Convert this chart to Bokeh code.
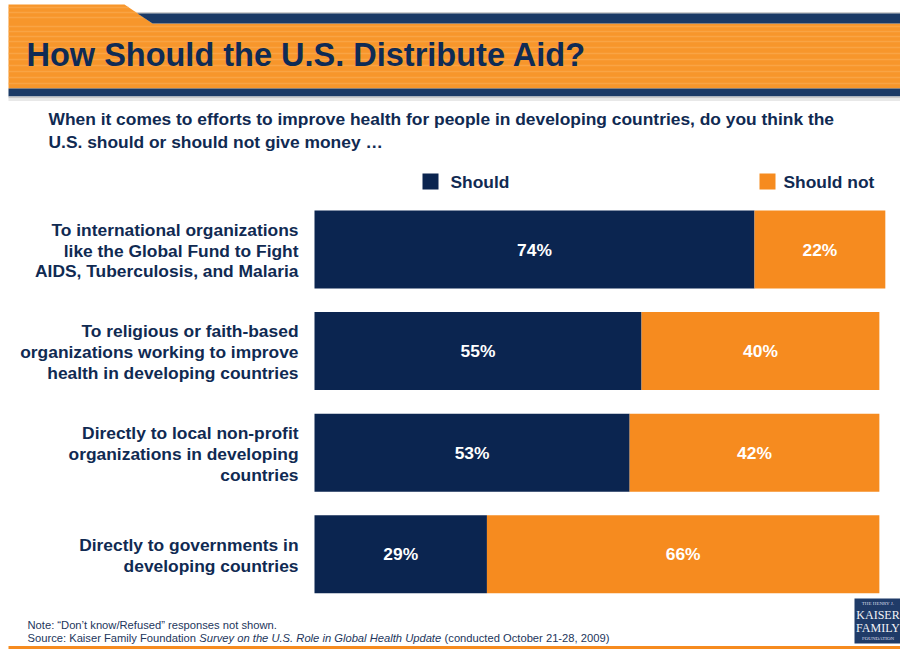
from bokeh.plotting import figure
from bokeh.models import Range1d
from bokeh.embed import file_html
from bokeh.resources import INLINE
from bokeh.core.properties import value

# ---------------- data ----------------
title = "How Should the U.S. Distribute Aid?"
subtitle = ["When it comes to efforts to improve health for people in developing countries, do you think the",
            "U.S. should or should not give money \u2026"]
categories = [
    "To international organizations\nlike the Global Fund to Fight\nAIDS, Tuberculosis, and Malaria",
    "To religious or faith-based\norganizations working to improve\nhealth in developing countries",
    "Directly to local non-profit\norganizations in developing\ncountries",
    "Directly to governments in\ndeveloping countries",
]
series_names = ["Should", "Should not"]
should = [74, 55, 53, 29]
should_not = [22, 40, 42, 66]
note = "Note: \u201cDon\u2019t know/Refused\u201d responses not shown."
source_parts = ["Source: Kaiser Family Foundation ",
                "Survey on the U.S. Role in Global Health Update ",
                "(conducted October 21-28, 2009)"]

# ---------------- style ----------------
NAVY_BAR = "#0B2550"
ORANGE_BAR = "#F68B1F"
HEAD_ORANGE = "#F7962B"
HEAD_NAVY = "#1B3A66"
TEXT_NAVY = "#102A52"
FOOT_TEXT = "#23365C"
FONT = value("Liberation Sans")
SERIF = value("Liberation Serif")

W, H = 900, 649
PAGE_X0, PAGE_Y0 = 0, 0
ZERO_X = 314.0
PX_PER_PCT = 5.946
ROW0_Y = 249.0
ROW_STEP = 101.6
BAR_H = 78.0 / ROW_STEP

x_start = (PAGE_X0 - ZERO_X) / PX_PER_PCT
x_end = x_start + W / PX_PER_PCT
y_top = (PAGE_Y0 - ROW0_Y) / ROW_STEP
y_bot = y_top + H / ROW_STEP


def fx(px):
    return (px - ZERO_X) / PX_PER_PCT


def fy(py):
    return (py - ROW0_Y) / ROW_STEP


p = figure(width=W, height=H, x_range=Range1d(x_start, x_end), y_range=Range1d(y_bot, y_top),
           output_backend="svg", toolbar_location=None, min_border=0,
           x_axis_location=None, y_axis_location=None, outline_line_color=None,
           background_fill_color="white", border_fill_color="white")
p.grid.visible = False

# ---------------- header ----------------
p.quad(left=[fx(136)], right=[fx(910)], top=[fy(11.5)], bottom=[fy(13.5)], fill_color="#CFCFCF", line_color=None)
p.patch(x=[fx(8), fx(124), fx(152), fx(910), fx(910), fx(8)],
        y=[fy(4), fy(4), fy(23), fy(23), fy(88), fy(88)],
        fill_color=HEAD_ORANGE, line_color=None)
stripe_y = [7, 12, 17, 26, 31, 36, 41, 47, 53, 59, 65, 71, 77, 83]
for sy in stripe_y:
    if sy < 23:
        xr = 124 + (sy - 4) * (28.0 / 19.0)
    else:
        xr = 910
    p.line(x=[fx(8), fx(xr)], y=[fy(sy), fy(sy)], line_color="#FBB15A", line_width=1.3, line_alpha=0.55)
p.patch(x=[fx(137), fx(910), fx(910), fx(152)],
        y=[fy(13), fy(13), fy(23), fy(23)], fill_color=HEAD_NAVY, line_color=None)
p.quad(left=[fx(8)], right=[fx(910)], top=[fy(88)], bottom=[fy(96)], fill_color=HEAD_NAVY, line_color=None)
p.quad(left=[fx(8)], right=[fx(910)], top=[fy(96)], bottom=[fy(98)], fill_color="#C9C9C9", line_color=None)
p.quad(left=[fx(8)], right=[fx(910)], top=[fy(98)], bottom=[fy(100.5)], fill_color="#E8E8E8", line_color=None)

p.text(x=[fx(26)], y=[fy(54)], text=[title], text_font=FONT, text_font_style="bold",
       text_font_size="32.5px", text_color="#0F2B55", text_align="left", text_baseline="middle")

p.text(x=[fx(48), fx(48)], y=[fy(118.5), fy(141)], text=subtitle, text_font=FONT, text_font_style="bold",
       text_font_size="17.4px", text_color=TEXT_NAVY, text_align="left", text_baseline="middle")

# ---------------- legend ----------------
p.quad(left=[fx(422)], right=[fx(438)], top=[fy(173)], bottom=[fy(189)], fill_color=NAVY_BAR, line_color=None)
p.quad(left=[fx(759)], right=[fx(775)], top=[fy(173)], bottom=[fy(189)], fill_color=ORANGE_BAR, line_color=None)
p.text(x=[fx(450), fx(783)], y=[fy(181), fy(181)], text=series_names, text_font=FONT, text_font_style="bold",
       text_font_size="17.4px", text_color=TEXT_NAVY, text_align="left", text_baseline="middle")

# ---------------- bars ----------------
idx = list(range(len(categories)))
totals = [a + b for a, b in zip(should, should_not)]
p.hbar(y=idx, left=0, right=should, height=BAR_H, fill_color=NAVY_BAR, line_color=None)
p.hbar(y=idx, left=should, right=totals, height=BAR_H, fill_color=ORANGE_BAR, line_color=None)

p.text(x=[v / 2 for v in should], y=idx, text=[f"{v}%" for v in should], text_font=FONT,
       text_font_style="bold", text_font_size="17.4px", text_color="white",
       text_align="center", text_baseline="middle")
p.text(x=[a + b / 2 for a, b in zip(should, should_not)], y=idx, text=[f"{v}%" for v in should_not],
       text_font=FONT, text_font_style="bold", text_font_size="17.4px", text_color="white",
       text_align="center", text_baseline="middle")

LINE_STEP = 20.8 / ROW_STEP
lx, ly, lt = [], [], []
for i, cat in enumerate(categories):
    lines = cat.split("\n")
    n = len(lines)
    for j, ln in enumerate(lines):
        lx.append(fx(298))
        ly.append(i + (j - (n - 1) / 2.0) * LINE_STEP + 1.0 / ROW_STEP)
        lt.append(ln)
p.text(x=lx, y=ly, text=lt, text_font=FONT, text_font_style="bold", text_font_size="17.4px",
       text_color=TEXT_NAVY, text_align="right", text_baseline="middle")

# ---------------- footer (lifted slightly so it fits the window) ----------------
FS = 11.2
NOTE_Y, SRC_Y = 624, 637
p.text(x=[fx(27)], y=[fy(NOTE_Y)], text=[note], text_font=FONT, text_font_size=f"{FS}px",
       text_color=FOOT_TEXT, text_align="left", text_baseline="middle")
x_italic = 27 + 15.339 * FS
x_rest = x_italic + 21.899 * FS
p.text(x=[fx(27)], y=[fy(SRC_Y)], text=[source_parts[0]], text_font=FONT, text_font_size=f"{FS}px",
       text_color=FOOT_TEXT, text_align="left", text_baseline="middle")
p.text(x=[fx(x_italic)], y=[fy(SRC_Y)], text=[source_parts[1]], text_font=FONT, text_font_size=f"{FS}px",
       text_font_style="italic", text_color=FOOT_TEXT, text_align="left", text_baseline="middle")
p.text(x=[fx(x_rest)], y=[fy(SRC_Y)], text=[source_parts[2]], text_font=FONT, text_font_size=f"{FS}px",
       text_color=FOOT_TEXT, text_align="left", text_baseline="middle")

# bottom orange rule
p.quad(left=[fx(8)], right=[fx(910)], top=[fy(645.5)], bottom=[fy(650)], fill_color=ORANGE_BAR, line_color=None)

# logo
LOGO_TOP, LOGO_BOT = 598, 643
p.quad(left=[fx(854)], right=[fx(901)], top=[fy(LOGO_TOP)], bottom=[fy(LOGO_BOT)], fill_color="#1F3B68", line_color=None)
p.text(x=[fx(877.5)], y=[fy(LOGO_TOP + 5)], text=["THE HENRY J."], text_font=SERIF, text_font_size="5px",
       text_color="#D8DEE8", text_align="center", text_baseline="middle")
p.text(x=[fx(877.5), fx(877.5)], y=[fy(LOGO_TOP + 16), fy(LOGO_TOP + 29)], text=["KAISER", "FAMILY"],
       text_font=SERIF, text_font_size="12px", text_color="#F2F4F8", text_align="center", text_baseline="middle")
p.text(x=[fx(877.5)], y=[fy(LOGO_TOP + 40)], text=["FOUNDATION"], text_font=SERIF, text_font_size="5px",
       text_color="#D8DEE8", text_align="center", text_baseline="middle")

open("out.html", "w").write(file_html(p, INLINE))
